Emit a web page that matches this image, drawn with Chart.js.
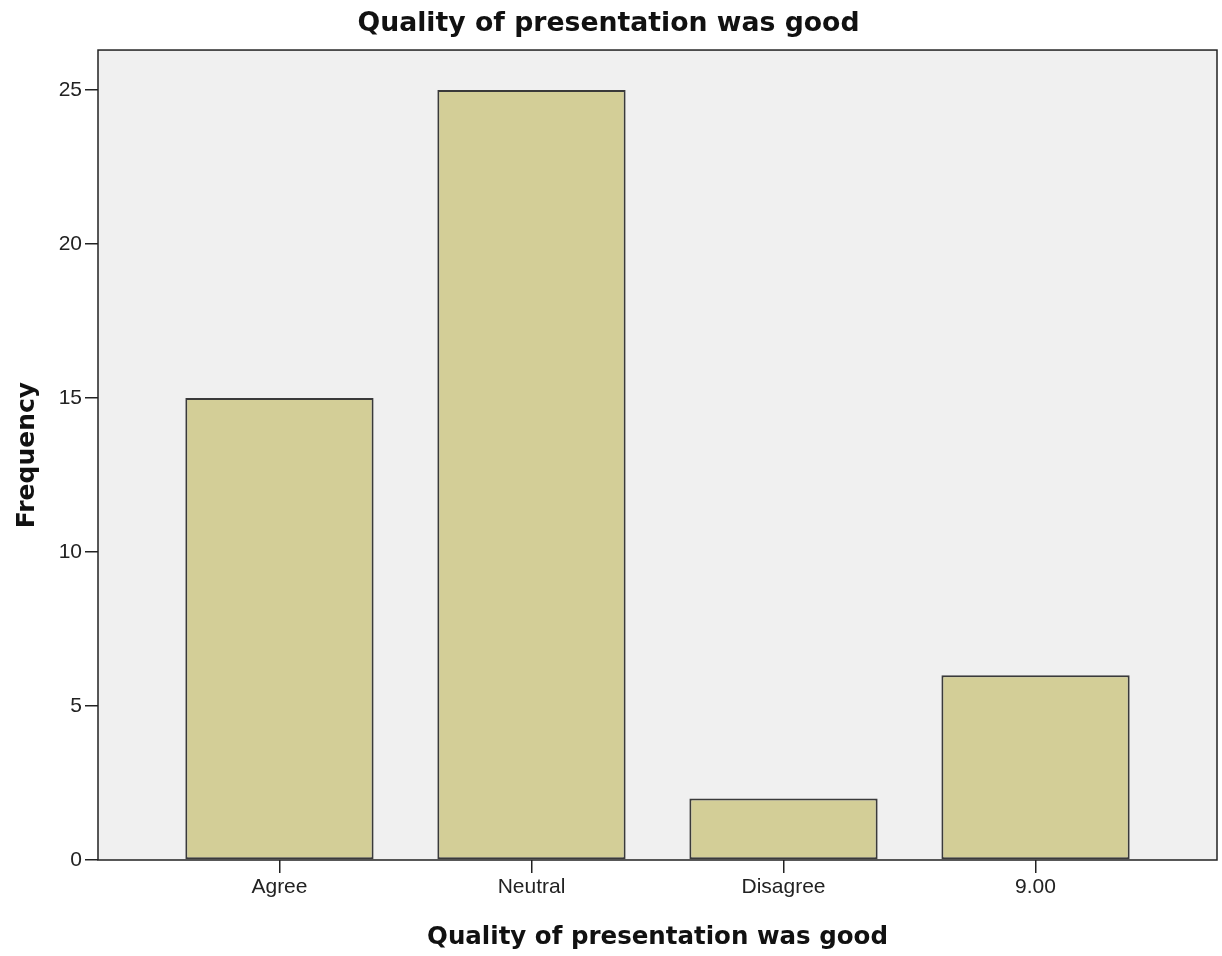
<!DOCTYPE html>
<html>
<head>
<meta charset="utf-8">
<script src="https://cdn.jsdelivr.net/npm/chart.js@4"></script>
<style>
  html, body { margin: 0; padding: 0; background: #fff; }
  #wrap { width: 1222px; height: 956px; }
</style>
</head>
<body>
<div id="wrap"><canvas id="chart"></canvas></div>
<script>
const categories = ["Agree", "Neutral", "Disagree", "9.00"];
const frequencies = [15, 25, 2, 6];
const yTicks = [0, 5, 10, 15, 20, 25];

const FONT = "'Liberation Sans', Arial, sans-serif";
const TITLE_FONT = "'DejaVu Sans', Verdana, sans-serif";

// grey plot background + black frame, like the SPSS output
const plotFrame = {
  id: "plotFrame",
  beforeDatasetsDraw(chart) {
    const { ctx, chartArea: a } = chart;
    ctx.save();
    ctx.fillStyle = "#f0f0f0";
    ctx.fillRect(a.left, a.top, a.right - a.left, a.bottom - a.top);
    ctx.restore();
  },
  afterDatasetsDraw(chart) {
    const { ctx, chartArea: a } = chart;
    ctx.save();
    ctx.strokeStyle = "#222";
    ctx.lineWidth = 1.5;
    ctx.strokeRect(a.left, a.top, a.right - a.left, a.bottom - a.top);
    ctx.restore();
  },
};

new Chart(document.getElementById("chart"), {
  type: "bar",
  data: {
    datasets: [
      {
        label: "Frequency",
        data: categories.map((c, i) => ({ x: i, y: frequencies[i] })),
        backgroundColor: "#d3ce97",
        borderColor: "#3a3a3a",
        borderWidth: 2,
        borderSkipped: false,
        categoryPercentage: 1,
        barPercentage: 0.747,
      },
    ],
  },
  options: {
    responsive: true,
    maintainAspectRatio: false,
    animation: false,
    layout: { padding: { left: 0, right: 5, top: 0, bottom: 0 } },
    plugins: {
      legend: { display: false },
      tooltip: { enabled: false },
      title: {
        display: true,
        text: "Quality of presentation was good",
        color: "#111",
        font: { family: TITLE_FONT, size: 26.7, weight: "bold" },
        padding: { top: 8, bottom: 10 },
      },
    },
    scales: {
      x: {
        type: "linear",
        min: -0.72,
        max: 3.72,
        offset: false,
        afterBuildTicks(scale) {
          scale.ticks = categories.map((c, i) => ({ value: i }));
        },
        afterFit(scale) {
          scale.height = 96;
        },
        ticks: {
          callback: (v) => categories[v],
          color: "#222",
          font: { family: FONT, size: 21 },
          padding: 2,
          maxRotation: 0,
        },
        grid: {
          offset: false,
          drawOnChartArea: false,
          tickLength: 13,
          color: "#222",
          lineWidth: 1.5,
        },
        border: { display: false },
        title: {
          display: true,
          text: "Quality of presentation was good",
          color: "#111",
          font: { family: TITLE_FONT, size: 24.5, weight: "bold" },
          padding: { top: 10, bottom: 4 },
        },
      },
      y: {
        min: 0,
        max: 26.3,
        afterBuildTicks(scale) {
          scale.ticks = yTicks.map((v) => ({ value: v }));
        },
        afterFit(scale) {
          scale.width = 98;
        },
        ticks: {
          color: "#222",
          font: { family: FONT, size: 21 },
          padding: 3,
        },
        grid: {
          drawOnChartArea: false,
          tickLength: 13,
          color: "#222",
          lineWidth: 1.5,
        },
        border: { display: false },
        title: {
          display: true,
          text: "Frequency",
          color: "#111",
          font: { family: TITLE_FONT, size: 25, weight: "bold" },
          padding: { top: 12, bottom: 0 },
        },
      },
    },
  },
  plugins: [plotFrame],
});
</script>
</body>
</html>
